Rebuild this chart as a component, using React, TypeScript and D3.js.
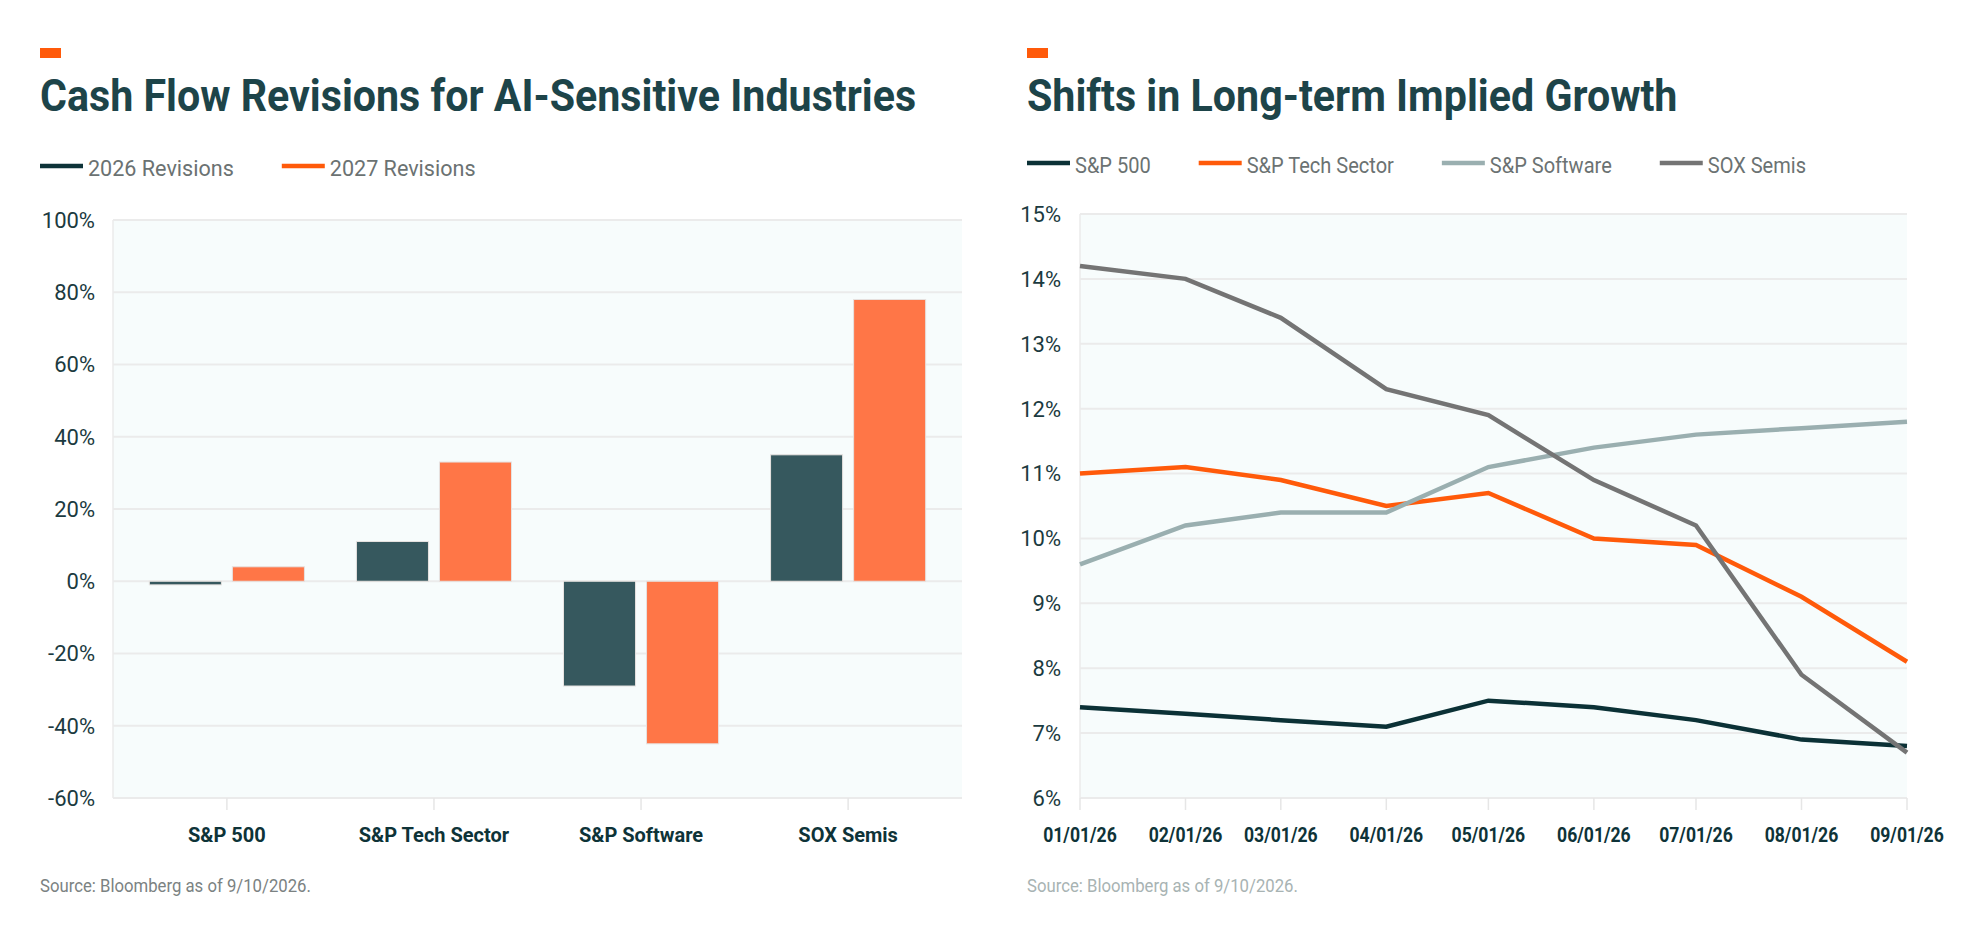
import { useEffect, useRef } from "react";
import * as d3 from "d3";

// bar chart: cash flow revisions (%)
const categories = ["S&P 500", "S&P Tech Sector", "S&P Software", "SOX Semis"];
const barSeries = ["2026 Revisions", "2027 Revisions"];
const revisions2026 = [-1, 11, -29, 35];
const revisions2027 = [4, 33, -45, 78];
const revisionTicks = [-60, -40, -20, 0, 20, 40, 60, 80, 100];

// line chart: long-term implied growth (%)
const dates = [
  "2026-01-01", "2026-02-01", "2026-03-01", "2026-04-01", "2026-05-01",
  "2026-06-01", "2026-07-01", "2026-08-01", "2026-09-01",
];
const lineSeries = ["S&P 500", "S&P Tech Sector", "S&P Software", "SOX Semis"];
const sp500 = [7.4, 7.3, 7.2, 7.1, 7.5, 7.4, 7.2, 6.9, 6.8];
const techSector = [11.0, 11.1, 10.9, 10.5, 10.7, 10.0, 9.9, 9.1, 8.1];
const software = [9.6, 10.2, 10.4, 10.4, 11.1, 11.4, 11.6, 11.7, 11.8];
const soxSemis = [14.2, 14.0, 13.4, 12.3, 11.9, 10.9, 10.2, 7.9, 6.7];
const growthTicks = [6, 7, 8, 9, 10, 11, 12, 13, 14, 15];

const W = 1984;
const H = 934;
const FONT = "Roboto, 'Open Sans', sans-serif";
const ACCENT = "#ff5a0a";
const TITLE = "#1d4449";
const TICK = "#1b3a40";
const AXIS = "#0e3338";
const GRID = "#ebebeb";
const PLOT_BG = "#f7fcfc";

const barColors = ["#36585e", "#ff7647"];
const barLegendColors = ["#0e3338", ACCENT];
const lineColors = ["#0b3136", ACCENT, "#9aafb0", "#747474"];

type G = d3.Selection<SVGGElement, unknown, null, undefined>;

// squeeze text a bit horizontally, the original face is narrower than Roboto
function condense(sel: d3.Selection<SVGTextElement, any, any, any>, k: number) {
  sel.each(function () {
    const len = this.getComputedTextLength();
    (this as any).__w = len * k;
    if (k !== 1) d3.select(this).attr("textLength", len * k).attr("lengthAdjust", "spacingAndGlyphs");
  });
}

function header(
  g: G,
  x: number,
  title: string,
  labels: string[],
  colors: string[],
  legendY: number,
  legendSqueeze: number
) {
  g.append("rect").attr("x", x).attr("y", 48).attr("width", 21).attr("height", 10).attr("fill", ACCENT);
  g.append("text")
    .attr("x", x)
    .attr("y", 111)
    .attr("font-size", 45)
    .attr("font-weight", 700)
    .attr("fill", TITLE)
    .text(title)
    .call(condense, 0.915);

  let lx = x;
  labels.forEach((label, i) => {
    g.append("line")
      .attr("x1", lx)
      .attr("x2", lx + 43)
      .attr("y1", legendY)
      .attr("y2", legendY)
      .attr("stroke", colors[i])
      .attr("stroke-width", 4.5);
    const t = g
      .append("text")
      .attr("x", lx + 48)
      .attr("y", legendY + 9.5)
      .attr("font-size", 22)
      .attr("fill", "#6b7272")
      .text(label)
      .call(condense, legendSqueeze);
    lx += 48 + (t.node() as any).__w + 48;
  });
}

function drawBars(g: G) {
  header(g, 40, "Cash Flow Revisions for AI-Sensitive Industries", barSeries, barLegendColors, 166, 0.98);

  const left = 113, right = 962, top = 220, bottom = 798;
  const x0 = d3.scaleBand().domain(categories).range([left, right]).paddingInner(0).paddingOuter(0.05);
  const x1 = d3
    .scaleBand()
    .domain(barSeries)
    .range([0, x0.bandwidth()])
    .paddingInner(0.1325)
    .paddingOuter(0.313);
  const y = d3.scaleLinear().domain([-60, 100]).range([bottom, top]);

  g.append("rect").attr("x", left).attr("y", top).attr("width", right - left).attr("height", bottom - top).attr("fill", PLOT_BG);
  g.append("line").attr("x1", left).attr("x2", left).attr("y1", top).attr("y2", bottom).attr("stroke", GRID).attr("stroke-width", 1.5);

  g.selectAll(".grid")
    .data(revisionTicks)
    .join("line")
    .attr("x1", left)
    .attr("x2", right)
    .attr("y1", (d) => y(d))
    .attr("y2", (d) => y(d))
    .attr("stroke", GRID)
    .attr("stroke-width", 2);

  g.selectAll(".ytick")
    .data(revisionTicks)
    .join("text")
    .attr("x", 95)
    .attr("y", (d) => y(d))
    .attr("dy", "0.36em")
    .attr("text-anchor", "end")
    .attr("font-size", 22)
    .attr("fill", TICK)
    .text((d) => `${d}%`);

  const values = [revisions2026, revisions2027];
  const cells = categories.flatMap((c, ci) => barSeries.map((s, si) => ({ c, s, si, v: values[si][ci] })));
  g.selectAll(".bar")
    .data(cells)
    .join("rect")
    .attr("x", (d) => x0(d.c)! + x1(d.s)!)
    .attr("width", x1.bandwidth())
    .attr("y", (d) => Math.min(y(d.v), y(0)))
    .attr("height", (d) => Math.abs(y(d.v) - y(0)))
    .attr("fill", (d) => barColors[d.si])
    .attr("stroke", "#e6e2e0")
    .attr("stroke-width", 1);

  g.selectAll(".xtick")
    .data(categories)
    .join("line")
    .attr("x1", (d) => x0(d)! + x0.bandwidth() / 2)
    .attr("x2", (d) => x0(d)! + x0.bandwidth() / 2)
    .attr("y1", bottom)
    .attr("y2", bottom + 12)
    .attr("stroke", "#e6e6e6")
    .attr("stroke-width", 1.5);

  g.selectAll(".xlabel")
    .data(categories)
    .join("text")
    .attr("x", (d) => x0(d)! + x0.bandwidth() / 2)
    .attr("y", 842)
    .attr("text-anchor", "middle")
    .attr("font-size", 20)
    .attr("font-weight", 700)
    .attr("fill", AXIS)
    .text((d) => d);

  g.append("text")
    .attr("x", 40)
    .attr("y", 892)
    .attr("font-size", 19)
    .attr("fill", "#7b8282")
    .text("Source: Bloomberg as of 9/10/2026.")
    .call(condense, 0.88);
}

function drawLines(g: G) {
  header(g, 1027, "Shifts in Long-term Implied Growth", lineSeries, lineColors, 163, 0.91);

  const left = 1080, right = 1907, top = 214, bottom = 798;
  const parse = d3.timeParse("%Y-%m-%d");
  const days = dates.map((d) => parse(d)!);
  const x = d3.scaleTime().domain([days[0], days[days.length - 1]]).range([left, right]);
  const y = d3.scaleLinear().domain([6, 15]).range([bottom, top]);
  const fmt = d3.timeFormat("%m/%d/%y");

  g.append("rect").attr("x", left).attr("y", top).attr("width", right - left).attr("height", bottom - top).attr("fill", PLOT_BG);
  g.append("line").attr("x1", left).attr("x2", left).attr("y1", top).attr("y2", bottom).attr("stroke", GRID).attr("stroke-width", 1.5);

  g.selectAll(".grid")
    .data(growthTicks)
    .join("line")
    .attr("x1", left)
    .attr("x2", right)
    .attr("y1", (d) => y(d))
    .attr("y2", (d) => y(d))
    .attr("stroke", GRID)
    .attr("stroke-width", 2);

  g.selectAll(".ytick")
    .data(growthTicks)
    .join("text")
    .attr("x", 1061)
    .attr("y", (d) => y(d))
    .attr("dy", "0.36em")
    .attr("text-anchor", "end")
    .attr("font-size", 22)
    .attr("fill", TICK)
    .text((d) => `${d}%`);

  g.selectAll(".xtick")
    .data(days)
    .join("line")
    .attr("x1", (d) => x(d))
    .attr("x2", (d) => x(d))
    .attr("y1", bottom)
    .attr("y2", bottom + 12)
    .attr("stroke", "#e6e6e6")
    .attr("stroke-width", 1.5);

  g.selectAll(".xlabel")
    .data(days)
    .join("text")
    .attr("x", (d) => x(d))
    .attr("y", 842)
    .attr("text-anchor", "middle")
    .attr("font-size", 20)
    .attr("font-weight", 700)
    .attr("fill", AXIS)
    .text((d) => fmt(d))
    .call(condense, 0.88);

  const line = d3
    .line<number>()
    .x((_, i) => x(days[i]))
    .y((v) => y(v));

  [sp500, techSector, software, soxSemis].forEach((vals, i) => {
    g.append("path")
      .attr("d", line(vals))
      .attr("fill", "none")
      .attr("stroke", lineColors[i])
      .attr("stroke-width", 4.5);
  });

  g.append("text")
    .attr("x", 1027)
    .attr("y", 892)
    .attr("font-size", 19)
    .attr("fill", "#a8b3b3")
    .text("Source: Bloomberg as of 9/10/2026.")
    .call(condense, 0.88);
}

export default function App() {
  const ref = useRef<SVGSVGElement | null>(null);

  useEffect(() => {
    if (!ref.current) return;
    const svg = d3.select(ref.current);
    svg.selectAll("*").remove();
    svg.attr("font-family", FONT);
    svg.append("rect").attr("width", W).attr("height", H).attr("fill", "#ffffff");
    drawBars(svg.append("g"));
    drawLines(svg.append("g"));
  }, []);

  return (
    <svg
      ref={ref}
      width={W}
      height={H}
      viewBox={`0 0 ${W} ${H}`}
      style={{ position: "absolute", left: 0, top: 0, display: "block" }}
    />
  );
}
